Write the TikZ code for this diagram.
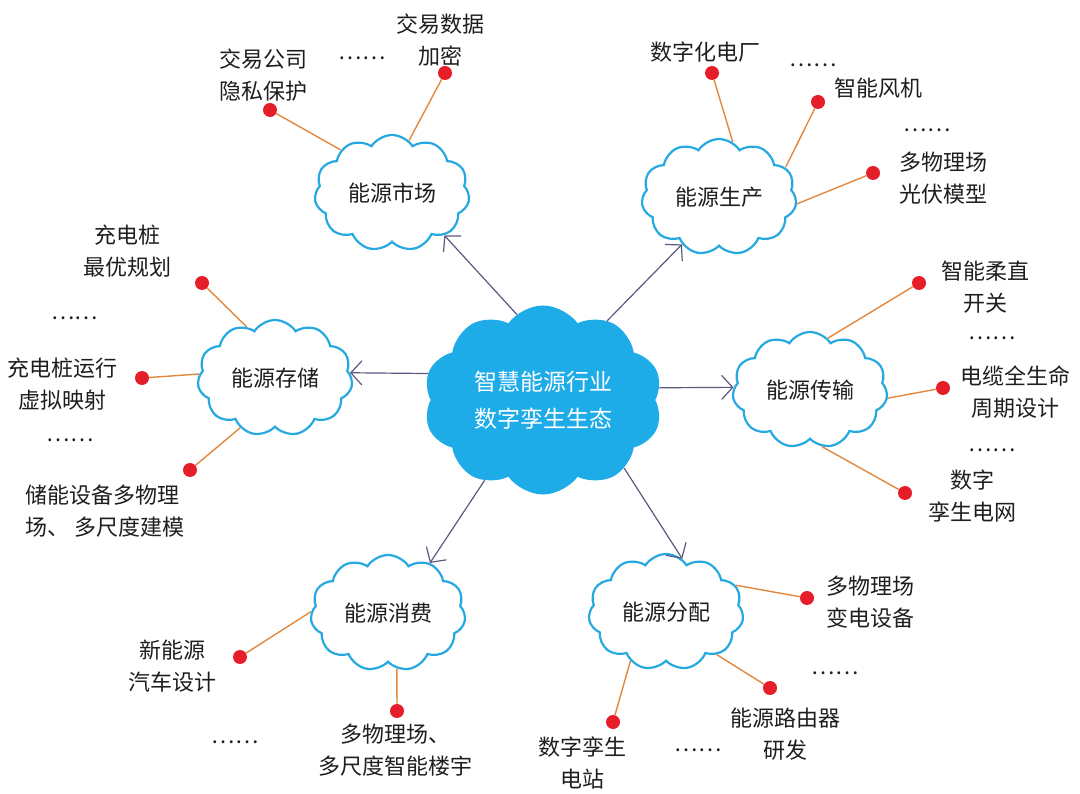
\documentclass[tikz,border=0pt]{standalone}
\usepackage{fontspec}
\newfontfamily\cjk{Noto Sans CJK SC}
\usetikzlibrary{shapes.symbols,arrows.meta}
\definecolor{cloudblue}{RGB}{38,168,225}
\definecolor{cloudfill}{RGB}{30,172,232}
\definecolor{arrgray}{RGB}{92,88,128}
\definecolor{connorange}{RGB}{226,136,62}
\definecolor{dotred}{RGB}{230,30,42}
\definecolor{txt}{RGB}{30,30,30}
\begin{document}
\begin{tikzpicture}[x=1pt,y=-1pt,
  lab/.style={font=\cjk\fontsize{22pt}{32pt}\selectfont, text=txt, align=center, inner sep=0pt},
  subcloud/.style={cloud, cloud puffs=11, cloud puff arc=115, cloud ignores aspect,
    draw=cloudblue, line width=2.2pt, fill=white, minimum width=155pt, minimum height=116pt,
    inner sep=0pt, lab},
  maincloud/.style={cloud, cloud puffs=10, cloud puff arc=110, cloud ignores aspect,
    draw=cloudfill, fill=cloudfill, line width=1pt, minimum width=238pt, minimum height=188pt,
    inner sep=0pt, font=\cjk\fontsize{23pt}{37pt}\selectfont, text=white, align=center},
  dotn/.style={circle, fill=dotred, inner sep=0pt, minimum size=14pt},
  conn/.style={draw=connorange, line width=1.4pt},
  arr/.style={draw=arrgray, line width=1.2pt, -{Straight Barb[length=11pt,width=24pt,line width=1.2pt]}},
  ell/.style={lab}
]
\useasboundingbox (0,0) rectangle (1080,794);

% clouds
\node[maincloud] (c) at (543,400) {智慧能源行业\\数字孪生生态};
\node[subcloud] (mkt) at (392,193) {能源市场};
\node[subcloud] (prod) at (719,197) {能源生产};
\node[subcloud] (store) at (275,378) {能源存储};
\node[subcloud] (trans) at (810,390) {能源传输};
\node[subcloud] (cons) at (388,613) {能源消费};
\node[subcloud] (dist) at (666,612) {能源分配};

% arrows
\draw[arr] (c.107) -- (mkt.-39);
\draw[arr] (c.51) -- (prod.-128);
\draw[arr] (c.167) -- (store.4);
\draw[arr] (c.6) -- (trans.178);
\draw[arr] (c.-126) -- (cons.50);
\draw[arr] (c.-40) -- (dist.73);

% dots
\node[dotn] (m1) at (270,110) {};
\node[dotn] (m2) at (445,73) {};
\node[dotn] (p1) at (712,73) {};
\node[dotn] (p2) at (818,102) {};
\node[dotn] (p3) at (873,173) {};
\node[dotn] (t1) at (919,283) {};
\node[dotn] (t2) at (943,388) {};
\node[dotn] (t3) at (905,493) {};
\node[dotn] (s1) at (202,283) {};
\node[dotn] (s2) at (142,378) {};
\node[dotn] (s3) at (190,470) {};
\node[dotn] (k1) at (240,657) {};
\node[dotn] (k2) at (397,711) {};
\node[dotn] (d1) at (807,598) {};
\node[dotn] (d2) at (770,688) {};
\node[dotn] (d3) at (613,722) {};

% connectors
\draw[conn] (m1) -- (mkt.140);
\draw[conn] (m2) -- (mkt.72);
\draw[conn] (p1) -- (prod.76);
\draw[conn] (p2) -- (prod.24);
\draw[conn] (p3) -- (prod.-5);
\draw[conn] (t1) -- (trans.71);
\draw[conn] (t2) -- (trans.-6);
\draw[conn] (t3) -- (trans.-78);
\draw[conn] (s1) -- (store.119);
\draw[conn] (s2) -- (store.177);
\draw[conn] (s3) -- (store.-125);
\draw[conn] (k1) -- (cons.179);
\draw[conn] (k2) -- (cons.-81);
\draw[conn] (d1) -- (dist.21);
\draw[conn] (d2) -- (dist.-40);
\draw[conn] (d3) -- (dist.-126);

% labels
\node[lab] (lm1) at (263,75) {交易公司\\隐私保护};
\node[lab] (lm2) at (440,40) {交易数据\\加密};
\node[ell] (em1) at (362,58) {……};
\node[lab] (lp1) at (705,52) {数字化电厂};
\node[ell] (ep1) at (813,65) {……};
\node[lab] (lp2) at (878,88) {智能风机};
\node[ell] (ep2) at (927,130) {……};
\node[lab] (lp3) at (943,178) {多物理场\\光伏模型};
\node[lab] (lt1) at (985,287) {智能柔直\\开关};
\node[ell] (et1) at (992,338) {……};
\node[lab] (lt2) at (1015,392) {电缆全生命\\周期设计};
\node[ell] (et2) at (992,450) {……};
\node[lab] (lt3) at (972,496) {数字\\孪生电网};
\node[lab] (ls1) at (127,251) {充电桩\\最优规划};
\node[ell] (es1) at (75,318) {……};
\node[lab] (ls2) at (63,384) {充电桩运行\\虚拟映射};
\node[ell] (es2) at (70,440) {……};
\node[lab, anchor=west, align=left] (ls3) at (25,511) {储能设备多物理\\场、\ 多尺度建模};
\node[lab] (lk1) at (172,666) {新能源\\汽车设计};
\node[ell] (ek1) at (235,742) {……};
\node[lab] (lk2) at (395,750) {多物理场、\\多尺度智能楼宇};
\node[lab] (ld3) at (582,763) {数字孪生\\电站};
\node[ell] (ed1) at (698,750) {……};
\node[lab] (ld2) at (785,734) {能源路由器\\研发};
\node[ell] (ed2) at (835,673) {……};
\node[lab] (ld1) at (870,602) {多物理场\\变电设备};
\end{tikzpicture}
\end{document}
